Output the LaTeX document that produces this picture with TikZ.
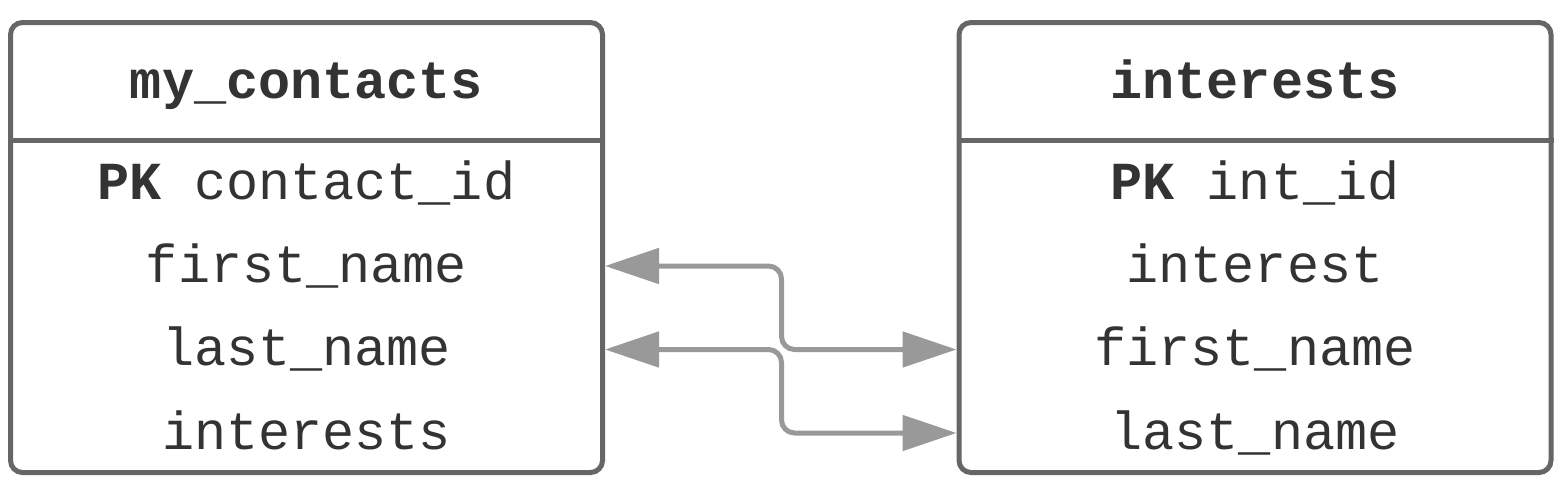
\documentclass[tikz,border=0pt]{standalone}
\usepackage{fontspec}
\setmonofont{Liberation Mono}
\usetikzlibrary{arrows.meta}
\definecolor{boxline}{HTML}{666666}
\definecolor{linkgray}{HTML}{999999}
\definecolor{txt}{HTML}{333333}
\begin{document}
\begin{tikzpicture}[x=1pt,y=-1pt,
  tablebox/.style={draw=boxline, line width=5pt, rounded corners=12pt,
    minimum width=592pt, minimum height=450pt, inner sep=0pt},
  sepline/.style={draw=boxline, line width=5pt},
  rowtext/.style={text=txt, font=\ttfamily\fontsize{53.5}{60}\selectfont,
    minimum width=597pt, text height=40pt, text depth=8pt,
    inner sep=0pt, outer sep=0pt},
  link/.style={draw=linkgray, line width=5pt, rounded corners=13pt,
    {Triangle[length=54pt,width=35pt]}-{Triangle[length=54pt,width=35pt]}}
]
\useasboundingbox (0,0) rectangle (1567,498);

% table boxes
\node[tablebox] (lbox) at (306.5,247.5) {};
\node[tablebox] (rbox) at (1255,247.5) {};
\coordinate (hsep) at (0,140.5);
\draw[sepline] (lbox.west |- hsep) -- (lbox.east |- hsep);
\draw[sepline] (rbox.west |- hsep) -- (rbox.east |- hsep);

% left table
\node[rowtext] (lhead) at (306.5,82) {\textbf{my\_contacts}};
\node[rowtext] (lpk)   at (306.5,183) {\textbf{PK} contact\_id};
\node[rowtext] (lfn)   at (306.5,266) {first\_name};
\node[rowtext] (lln)   at (306.5,349.5) {last\_name};
\node[rowtext] (lint)  at (306.5,433) {interests};

% right table
\node[rowtext] (rhead) at (1255,82) {\textbf{interests}};
\node[rowtext] (rpk)   at (1255,183) {\textbf{PK} int\_id};
\node[rowtext] (rint)  at (1255,266) {interest};
\node[rowtext] (rfn)   at (1255,349.5) {first\_name};
\node[rowtext] (rln)   at (1255,433) {last\_name};

% connectors
\coordinate (mid) at (781.5,0);
\draw[link] (lfn.east) -- (lfn.east -| mid) -- (rfn.west -| mid) -- (rfn.west);
\draw[link] (lln.east) -- (lln.east -| mid) -- (rln.west -| mid) -- (rln.west);
\end{tikzpicture}
\end{document}
